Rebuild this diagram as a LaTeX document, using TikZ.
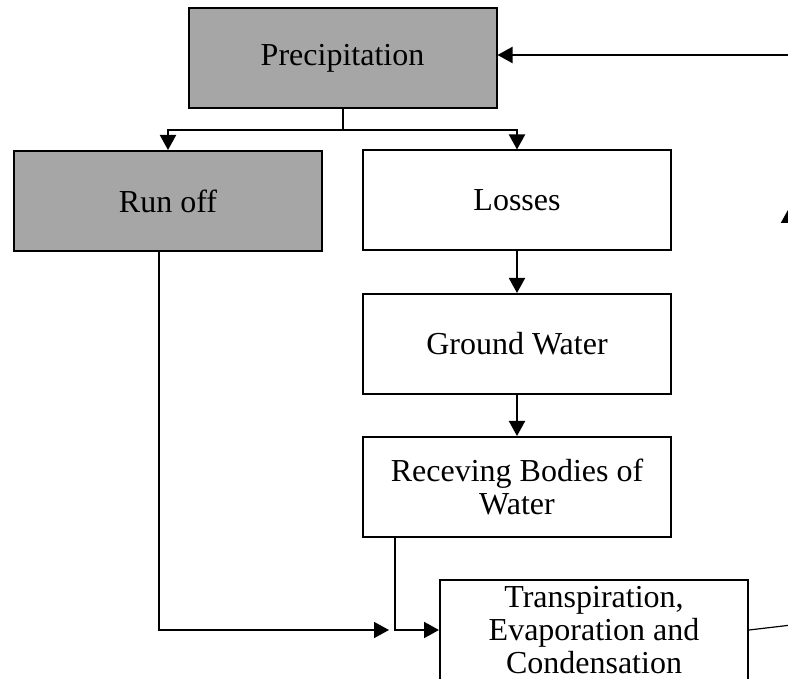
\documentclass[tikz,border=0pt]{standalone}
\usepackage{fontspec}
\setmainfont{Liberation Serif}
\usetikzlibrary{arrows.meta}
\definecolor{boxgray}{HTML}{A6A6A6}

\begin{document}
\begin{tikzpicture}[x=0.5pt, y=-0.5pt,
    box/.style={draw, line width=1pt, minimum width=154pt, minimum height=50pt,
                inner sep=2pt, align=center, font=\fontsize{16}{16.5}\selectfont},
    greybox/.style={box, fill=boxgray},
    arr/.style={line width=1pt, -{Triangle[length=7.5pt, width=8pt]}}]
% cadre de l'image
\path[use as bounding box, clip] (0,0) rectangle (788,679);

% les boites
\node[greybox] (prec) at (342.5,58.5) {Precipitation};
\node[greybox] (runoff) at (168,201) {Run off};
\node[box] (losses) at (517,200.5) {Losses};
\node[box] (ground) at (517,344) {Ground Water};
\node[box] (recv) at (517,487) {Receving Bodies of\\ Water};
\node[box] (trans) at (594,630) {Transpiration,\\ Evaporation and\\ Condensation};

% points libres
\coordinate (split) at (342.5,130);
\coordinate (jn) at (395,630);
\coordinate (far) at (800,624);
\coordinate (topin) at (800,55);
\coordinate (loopbot) at (789,640);
\coordinate (looptip) at (789,208);

% les fleches
\draw[arr] (prec.south) -- (split) -| (runoff.north);
\draw[arr] (split) -| (losses.north);
\draw[arr] (losses) -- (ground);
\draw[arr] (ground) -- (recv);
\draw[arr, line width=0.8pt] ([xshift=-4.5pt]runoff.south) |- ([xshift=-3pt]jn);
\draw[arr] (recv.south -| jn) -- (jn) -- (trans.west);
\draw[line width=0.6pt] (trans.east) -- (far);
\draw[arr] (loopbot) -- (looptip);
\draw[arr] (topin) -- (prec.east |- topin);
\end{tikzpicture}
\end{document}
